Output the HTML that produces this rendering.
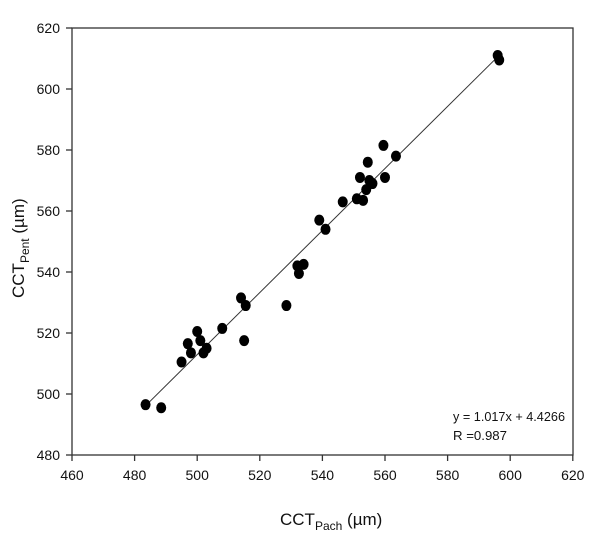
<!DOCTYPE html><html><head><style>body{margin:0;background:#fff}</style></head><body>
<svg width="600" height="536" xmlns="http://www.w3.org/2000/svg" font-family="Liberation Sans, sans-serif">
<rect width="600" height="536" fill="#fff"/>
<g stroke="#333" stroke-width="1.3" fill="none">
<rect x="72" y="28" width="501" height="427"/>
</g>
<g id="t" stroke="#333" stroke-width="1.3"></g>
<g id="l" font-size="14" fill="#111"></g>
<g id="d" fill="#000"></g>
<text x="453" y="421" font-size="13" fill="#111" textLength="112" lengthAdjust="spacingAndGlyphs">y = 1.017x + 4.4266</text>
<text x="453" y="440" font-size="13" fill="#111" textLength="54" lengthAdjust="spacingAndGlyphs">R =0.987</text>
<text x="280" y="525" font-size="17" fill="#111">CCT<tspan font-size="12" dy="5">Pach</tspan><tspan dy="-5"> (µm)</tspan></text>
<text transform="translate(24,298) rotate(-90)" font-size="17" fill="#111">CCT<tspan font-size="12" dy="5">Pent</tspan><tspan dy="-5"> (µm)</tspan></text>
<script>
var X=v=>72+(v-460)*3.13,Y=v=>28+(620-v)*3.05,ns="http://www.w3.org/2000/svg";
var t=document.getElementById('t'),l=document.getElementById('l'),d=document.getElementById('d');
function el(p,n,a,txt){var e=document.createElementNS(ns,n);for(var k in a)e.setAttribute(k,a[k]);if(txt)e.textContent=txt;p.appendChild(e);}
for(var v=460;v<=620;v+=20){el(t,'line',{x1:X(v),x2:X(v),y1:455,y2:461});el(l,'text',{x:X(v),y:480,'text-anchor':'middle'},v);}
for(var v=480;v<=620;v+=20){el(t,'line',{x1:66,x2:72,y1:Y(v),y2:Y(v)});el(l,'text',{x:60,y:Y(v)+5,'text-anchor':'end'},v);}
el(t,'line',{x1:X(483),y1:Y(1.017*483+4.4266),x2:X(597),y2:Y(1.017*597+4.4266),'stroke-width':1});
[[483.5,496.5],[488.5,495.5],[495,510.5],[497,516.5],[498,513.5],[500,520.5],[501,517.5],[502,513.5],[503,515],[508,521.5],[514,531.5],[515,517.5],[515.5,529],[528.5,529],[532,542],[532.5,539.5],[534,542.5],[539,557],[541,554],[546.5,563],[551,564],[552,571],[553,563.5],[554,567],[554.5,576],[555,570],[556,569],[559.5,581.5],[560,571],[563.5,578],[596,611],[596.5,609.5]].forEach(p=>el(d,'ellipse',{cx:X(p[0]),cy:Y(p[1]),rx:5,ry:5.5}));
</script>
</svg></body></html>
